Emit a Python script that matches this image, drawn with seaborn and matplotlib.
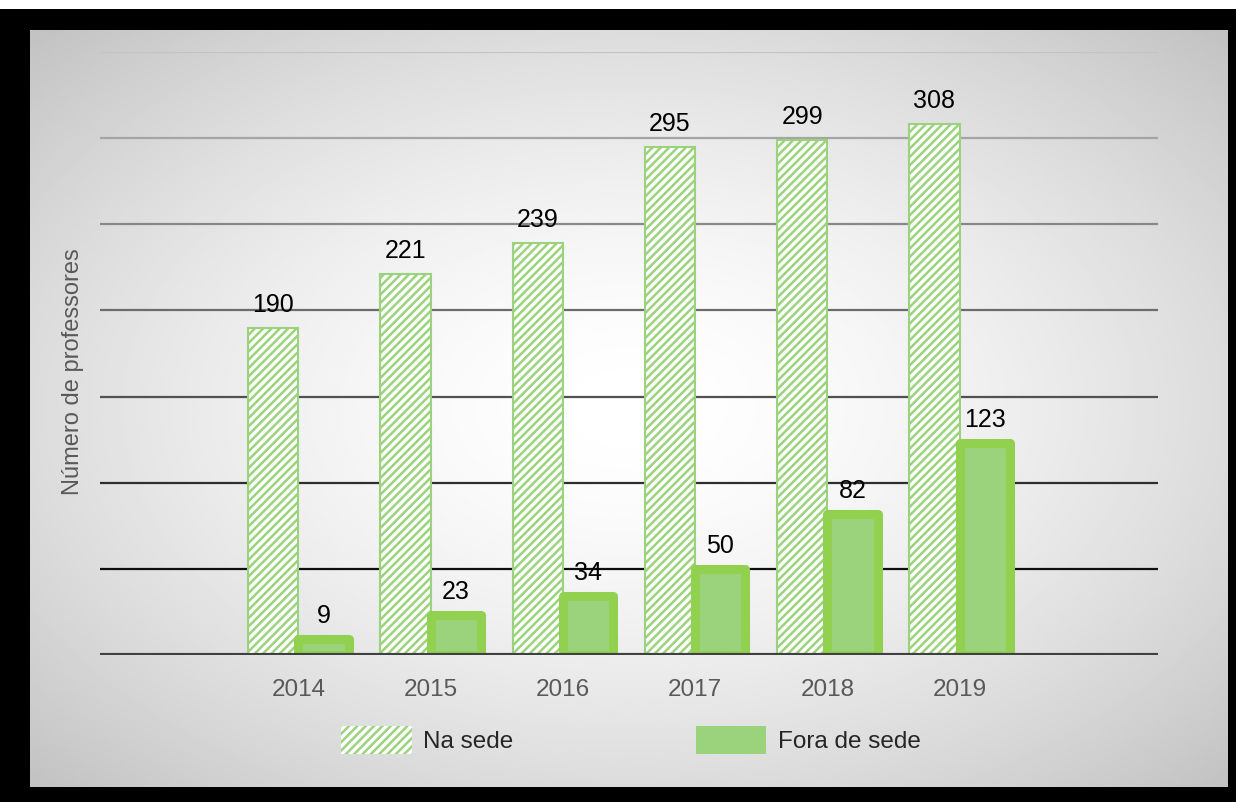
import numpy as np
import pandas as pd
import seaborn as sns
import matplotlib.pyplot as plt
from matplotlib.patches import Patch, Rectangle

anos = ["2014", "2015", "2016", "2017", "2018", "2019"]
na_sede = [190, 221, 239, 295, 299, 308]
fora_sede = [9, 23, 34, 50, 82, 123]
series = ["Na sede", "Fora de sede"]
grade = [50, 100, 150, 200, 250, 300, 350]

verde_claro = "#9BD37C"
verde_borda = "#92D050"
cinza_texto = "#595959"

df = pd.DataFrame({
    "Ano": anos * 2,
    "Professores": na_sede + fora_sede,
    "Tipo": [series[0]] * len(anos) + [series[1]] * len(anos),
})

sns.set_theme(style="white")
plt.rcParams["font.family"] = ["Liberation Sans", "DejaVu Sans"]
plt.rcParams["hatch.linewidth"] = 1.8

fig = plt.figure(figsize=(12.36, 8.02), dpi=100, facecolor="black")

# faixa branca no topo (titulo cortado)
fig.patches.append(Rectangle((0, 0.989), 1, 0.011, transform=fig.transFigure,
                             facecolor="white", edgecolor="none", zorder=0))

# painel com gradiente radial
bg = fig.add_axes([30 / 1236, 15 / 802, 1198 / 1236, 757 / 802], zorder=0)
yy, xx = np.mgrid[-1:1:300j, -1:1:400j]
r2 = (xx ** 2 + yy ** 2) / 2
bg.imshow(1 - 0.24 * r2 ** 0.8, cmap="gray", vmin=0, vmax=1, aspect="auto",
          extent=[0, 1, 0, 1])
bg.set_axis_off()

ax = fig.add_axes([100 / 1236, 147 / 802, 1058 / 1236, 603 / 802], zorder=1)
ax.patch.set_alpha(0)

sns.barplot(data=df, x="Ano", y="Professores", hue="Tipo", width=0.76,
            palette=["white", verde_claro], legend=False, ax=ax)

for bar in ax.containers[0]:
    bar.set_facecolor("white")
    bar.set_edgecolor(verde_claro)
    bar.set_hatch("////")
    bar.set_linewidth(1.5)
for bar in ax.containers[1]:
    bar.set_facecolor(verde_claro)
    bar.set_edgecolor(verde_borda)
    bar.set_linewidth(6.5)
    bar.set_joinstyle("round")

for cont in ax.containers:
    ax.bar_label(cont, padding=8, fontsize=18, color="black")

cores = plt.cm.Greys(np.linspace(0.35, 0.95, len(grade)))[::-1]
for v, c in zip(grade, cores):
    ax.axhline(v, color=c, linewidth=1.6, zorder=0)
ax.axhline(0, color="#404040", linewidth=3, zorder=5)

ax.set_xlim(-1.5, len(anos) + 0.5)
ax.set_ylim(0, 350)
ax.set_yticks([])
ax.set_xlabel("")
ax.set_ylabel("Número de professores", fontsize=17, color=cinza_texto)
ax.yaxis.set_label_coords(-0.015, 0.47)
ax.tick_params(axis="x", length=0, pad=17, labelsize=17.5, labelcolor=cinza_texto)
for s in ax.spines.values():
    s.set_visible(False)

handles = [
    Patch(facecolor="white", edgecolor=verde_claro, hatch="////", linewidth=0),
    Patch(facecolor=verde_claro, edgecolor=verde_claro, linewidth=0),
]
fig.legend(handles, series, loc="center", bbox_to_anchor=(631 / 1236, 1 - 740 / 802),
           ncol=2, frameon=False, fontsize=17.5, handlelength=2.9, handleheight=1.4,
           handletextpad=0.47, columnspacing=7.5)

fig.savefig("out.png", dpi=100, facecolor="black")
